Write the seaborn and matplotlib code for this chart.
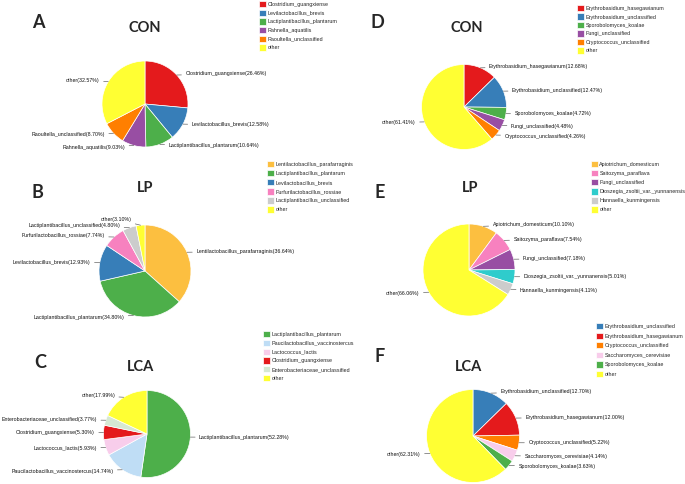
""" Microbial composition pie charts (bacteria A-C, fungi D-F) """

import numpy as np
import matplotlib
matplotlib.use('Agg')
import matplotlib.pyplot as plt
import seaborn as sns

sns.set_style('white')
plt.rcParams['font.family'] = ['Liberation Sans', 'DejaVu Sans']

# colours
set1 = sns.color_palette('Set1', 9).as_hex()
RED, BLUE, GREEN, PURPLE, ORANGE, YELLOW = set1[0], set1[1], set1[2], set1[3], set1[4], '#FFFF33'
GOLD = '#FCBF40'
PINK = set1[7]
GREY = '#CCCCCC'
CYAN = '#2FCCCC'
LIGHT_BLUE = '#BFDDF5'
LIGHT_PINK = '#F8CDEB'
LIGHT_GREEN = '#D5E8D2'

# A: bacteria, CON
a_names = ['Clostridium_guangxiense', 'Levilactobacillus_brevis', 'Lactiplantibacillus_plantarum',
           'Rahnella_aquatilis', 'Raoultella_unclassified', 'other']
a_values = [26.46, 12.58, 10.64, 9.03, 8.70, 32.57]
a_colors = [RED, BLUE, GREEN, PURPLE, ORANGE, YELLOW]

# B: bacteria, LP
b_names = ['Lentilactobacillus_parafarraginis', 'Lactiplantibacillus_plantarum', 'Levilactobacillus_brevis',
           'Furfurilactobacillus_rossiae', 'Lactiplantibacillus_unclassified', 'other']
b_values = [36.64, 34.80, 12.93, 7.74, 4.80, 3.10]
b_colors = [GOLD, GREEN, BLUE, PINK, GREY, YELLOW]

# C: bacteria, LCA
c_names = ['Lactiplantibacillus_plantarum', 'Paucilactobacillus_vaccinostercus', 'Lactococcus_lactis',
           'Clostridium_guangxiense', 'Enterobacteriaceae_unclassified', 'other']
c_values = [52.28, 14.74, 5.93, 5.30, 3.77, 17.99]
c_colors = [GREEN, LIGHT_BLUE, LIGHT_PINK, RED, LIGHT_GREEN, YELLOW]

# D: fungi, CON
d_names = ['Erythrobasidium_hasegawianum', 'Erythrobasidium_unclassified', 'Sporobolomyces_koalae',
           'Fungi_unclassified', 'Cryptococcus_unclassified', 'other']
d_values = [12.68, 12.47, 4.72, 4.48, 4.26, 61.41]
d_colors = [RED, BLUE, GREEN, PURPLE, ORANGE, YELLOW]

# E: fungi, LP
e_names = ['Apiotrichum_domesticum', 'Saitozyma_paraflava', 'Fungi_unclassified',
           'Dioszegia_zsoltii_var._yunnanensis', 'Hannaella_kunmingensis', 'other']
e_values = [10.10, 7.54, 7.18, 5.01, 4.11, 66.06]
e_colors = [GOLD, PINK, PURPLE, CYAN, GREY, YELLOW]

# F: fungi, LCA
f_names = ['Erythrobasidium_unclassified', 'Erythrobasidium_hasegawianum', 'Cryptococcus_unclassified',
           'Saccharomyces_cerevisiae', 'Sporobolomyces_koalae', 'other']
f_values = [12.70, 12.00, 5.22, 4.14, 3.63, 62.31]
f_colors = [BLUE, RED, ORANGE, LIGHT_PINK, GREEN, YELLOW]

W, H = 685, 484
fig = plt.figure(figsize=(W / 100, H / 100), dpi=100)
fig.patch.set_facecolor('white')


def fx(x):
    return x / W


def fy(y):
    return 1 - y / H


def draw_pie(names, values, colors, cx, cy, r, letter, letter_xy, title, title_xy, leg_xy, leg_space):
    """Draw one labelled pie with its legend, positions given in pixels"""
    ax = fig.add_axes([fx(cx - r), fy(cy + r), 2 * r / W, 2 * r / H])
    wedges, _ = ax.pie(values, colors=colors, startangle=90, counterclock=False, radius=1,
                       wedgeprops=dict(edgecolor='white', linewidth=0.5))
    ax.set_xlim(-1, 1)
    ax.set_ylim(-1, 1)
    ax.axis('off')

    # outside labels with leader lines
    items = []
    for w, n, v in zip(wedges, names, values):
        ang = np.deg2rad((w.theta1 + w.theta2) / 2)
        x, y = np.cos(ang), np.sin(ang)
        side = 1 if x >= 0 else -1
        items.append({'x': x, 'y': y, 'side': side, 'ty': 1.04 * y, 'text': f'{n}({v:.2f}%)'})
    for side in (1, -1):
        group = sorted([it for it in items if it['side'] == side], key=lambda it: it['ty'])
        for lo, hi in zip(group, group[1:]):
            if hi['ty'] - lo['ty'] < 0.15:
                hi['ty'] = lo['ty'] + 0.15
    for it in items:
        ax.annotate(it['text'], xy=(it['x'], it['y']), xytext=(it['x'] + it['side'] * 0.2, it['ty']),
                    ha='left' if it['side'] > 0 else 'right', va='center', fontsize=3.8, color='#111111',
                    annotation_clip=False,
                    arrowprops=dict(arrowstyle='-', color='#666666', lw=0.5, shrinkA=0.5, shrinkB=0))

    fig.text(fx(letter_xy[0]), fy(letter_xy[1]), letter, fontsize=13, fontweight='bold',
             family=['Lato', 'DejaVu Sans'], ha='center', va='center')
    fig.text(fx(title_xy[0]), fy(title_xy[1]), title, fontsize=10.5, fontweight='bold',
             family=['Lato', 'DejaVu Sans'], ha='center', va='center')

    ax.legend(wedges, names, loc='upper left', bbox_to_anchor=(fx(leg_xy[0]), fy(leg_xy[1])),
              bbox_transform=fig.transFigure, frameon=False, fontsize=3.9, handlelength=1.2,
              handleheight=1.45, labelspacing=leg_space, borderpad=0, borderaxespad=0,
              handletextpad=0.35)
    return ax


draw_pie(a_names, a_values, a_colors, 145, 104, 43, 'A', (38, 23), 'CON', (145, 28), (259, 1), 0.41)
draw_pie(b_names, b_values, b_colors, 145, 271, 46, 'B', (37, 192), 'LP', (145, 188), (267, 161), 0.48)
draw_pie(c_names, c_values, c_colors, 147, 434, 43.5, 'C', (40, 362), 'LCA', (141, 367), (263, 331), 0.43)
draw_pie(d_names, d_values, d_colors, 464, 107, 42.5, 'D', (377, 22), 'CON', (467, 28), (577, 5), 0.38)
draw_pie(e_names, e_values, e_colors, 469, 270, 46, 'E', (380, 192), 'LP', (470, 188), (591, 161), 0.48)
draw_pie(f_names, f_values, f_colors, 473, 436, 46.5, 'F', (380, 357), 'LCA', (469, 367), (596, 323), 0.57)

plt.savefig('out.png', dpi=100, facecolor='white')
plt.close()
